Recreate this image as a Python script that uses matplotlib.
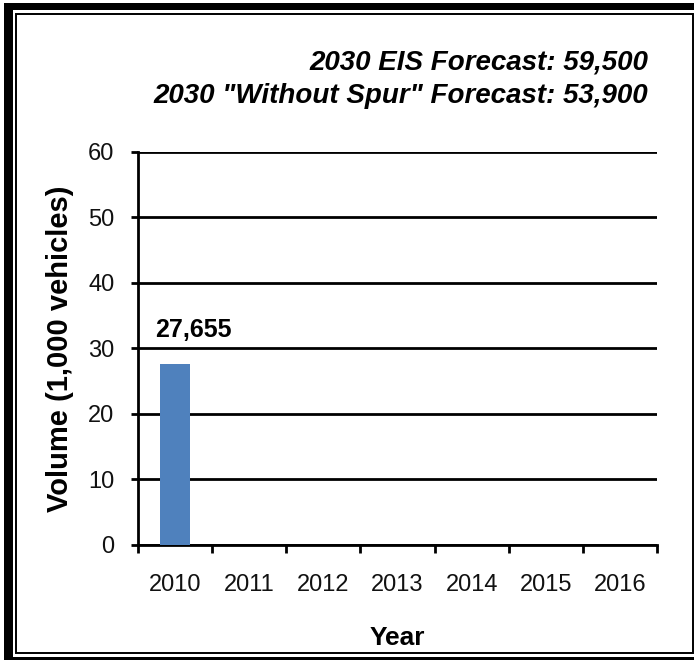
import matplotlib
matplotlib.use("Agg")
import matplotlib.pyplot as plt
from matplotlib.patches import Rectangle

plt.rcParams['font.family'] = ['Liberation Sans', 'DejaVu Sans']

years = ['2010', '2011', '2012', '2013', '2014', '2015', '2016']
volumes = [27.655, None, None, None, None, None, None]
bar_labels = ['27,655']
yticks = [0, 10, 20, 30, 40, 50, 60]
forecast_lines = ['2030 EIS Forecast: 59,500', '2030 "Without Spur" Forecast: 53,900']

W, H = 694, 660
fig = plt.figure(figsize=(W / 100, H / 100), dpi=100)

def px_rect(x0, y0, x1, y1, **kw):
    r = Rectangle((x0 / W, 1 - y1 / H), (x1 - x0) / W, (y1 - y0) / H,
                  transform=fig.transFigure, zorder=-10, **kw)
    fig.patches.append(r)

# frame
px_rect(4, 3, 720, 700, facecolor='black', edgecolor='none')
px_rect(13, 10, 715, 657, facecolor='white', edgecolor='none')
px_rect(16, 13.5, 692.5, 653, fill=False, edgecolor='black', linewidth=1.4)

# axes placement in pixels
left, right, top, bottom = 138, 657, 152, 544.5
ax = fig.add_axes([left / W, 1 - bottom / H, (right - left) / W, (bottom - top) / H])
ax.set_facecolor('none')

xs = list(range(len(years)))
vals = [v if v is not None else 0 for v in volumes]
ax.bar(xs, vals, width=0.4, color='#4f81bd', zorder=3)
ax.set_xlim(-0.5, len(years) - 0.5)
ax.set_ylim(0, 60)
ax.set_yticks(yticks)
ax.set_yticklabels([str(t) for t in yticks], fontsize=17, color='#111111')
ax.yaxis.grid(True, color='black', linewidth=2, zorder=0)
ax.set_axisbelow(True)

ax.set_xticks(xs)
ax.set_xticklabels(years, fontsize=17, color='#111111')
ax.set_xticks([x - 0.5 for x in range(len(years) + 1)], minor=True)
ax.tick_params(axis='x', which='major', length=0, pad=21)
ax.tick_params(axis='x', which='minor', length=6, width=2, direction='out')
ax.tick_params(axis='y', which='major', length=5, width=2, direction='out', pad=12)

for s in ['top', 'right']:
    ax.spines[s].set_visible(False)
for s in ['left', 'bottom']:
    ax.spines[s].set_linewidth(2)

ax.text(xs[0] - 0.27, volumes[0] + 5.2, bar_labels[0], fontsize=18, fontweight='bold', ha='left', va='center')

ax.set_ylabel('Volume (1,000 vehicles)', fontsize=21, fontweight='bold', labelpad=10)
ax.set_xlabel('Year', fontsize=19, fontweight='bold', labelpad=22)

fig.text(648 / W, 1 - 63 / H, forecast_lines[0], fontsize=20, fontweight='bold', fontstyle='italic', ha='right', va='center')
fig.text(648 / W, 1 - 96 / H, forecast_lines[1], fontsize=20, fontweight='bold', fontstyle='italic', ha='right', va='center')

fig.savefig('out.png', dpi=100)
